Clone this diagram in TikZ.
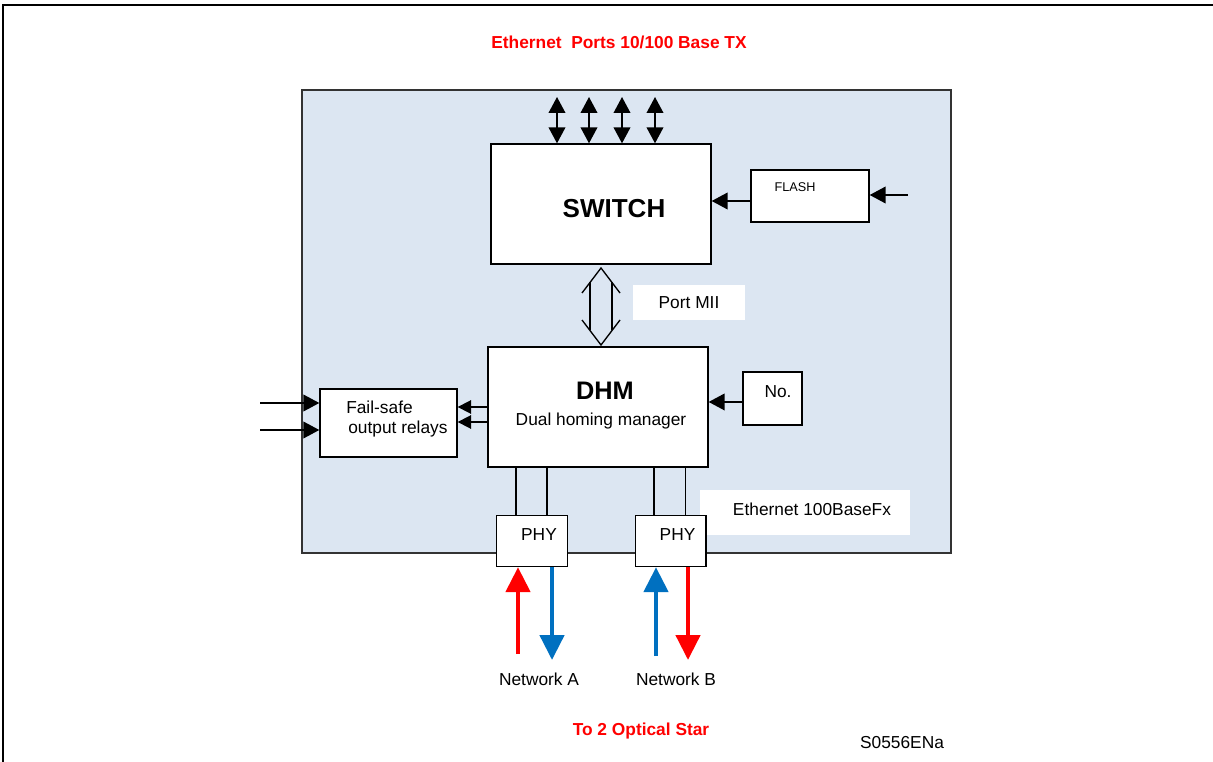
\documentclass[tikz,border=0pt]{standalone}
\usepackage{fontspec}
\setmainfont{Liberation Sans}
\usetikzlibrary{arrows.meta}
\definecolor{panel}{RGB}{220,230,242}
\definecolor{netred}{RGB}{255,0,0}
\definecolor{netblue}{RGB}{0,112,192}

\begin{document}
\begin{tikzpicture}[x=0.75pt,y=-0.75pt,font=\fontsize{13}{15}\selectfont,
  box/.style={draw,line width=1pt,fill=white,inner sep=0pt},
  txt/.style={inner sep=0pt},
  hdr/.style={inner sep=0pt,text=netred,font=\fontsize{13}{15}\selectfont\bfseries},
  arr/.style={-{Triangle[width=12.5pt,length=12pt]},line width=1.3pt},
  arrs/.style={-{Triangle[width=10pt,length=10pt]},line width=1.3pt},
  dbl/.style={{Triangle[width=12.5pt,length=12pt]}-{Triangle[width=12.5pt,length=12pt]},line width=1.3pt},
  net/.style={-{Triangle[width=18pt,length=18.75pt]},line width=3.5pt}]
\useasboundingbox (0,0) rectangle (1213,762);
\draw[line width=2pt] (3,762)--(3,5)--(1213,5);
\draw[fill=panel,draw=black!80,line width=0.9pt] (302,90) rectangle (951,553);
\node[hdr] (title) at (619,42) {Ethernet\ \ Ports 10/100 Base TX};

% switch and its ports
\node[box,minimum width=165pt,minimum height=90pt] (switch) at (601,204) {};
\node[txt,font=\fontsize{19.5}{22}\selectfont\bfseries] (switchtxt) at (614,209) {SWITCH};
\foreach \x [count=\i] in {557,589,622,655} {
  \coordinate (port\i) at (\x,97);
  \draw[dbl] (port\i) -- (port\i |- switch.north);
}

% flash
\node[box,minimum width=88.5pt,minimum height=39pt] (flash) at (810,196) {};
\node[txt,font=\fontsize{9.5}{11}\selectfont] (flashtxt) at (795,187) {FLASH};
\draw[arr] ([yshift=-3.75pt]flash.west) -- ([yshift=-3.75pt]flash.west -| switch.east);
\coordinate (flashin) at (908,195);
\draw[arr] (flashin) -- (flashin -| flash.east);

% MII link
\draw[line width=1pt] (582,293) -- (601,268) -- (620,293);
\draw[line width=1pt] (582,320) -- (601,345) -- (620,320);
\draw[line width=1pt] (590,282.5) -- (590,330.5);
\draw[line width=1pt] (612,282.5) -- (612,330.5);
\node[fill=white,minimum width=84pt,minimum height=26.25pt] (miilbl) at (689,302.5) {Port MII};

% dual homing manager
\node[box,minimum width=165pt,minimum height=90pt] (dhm) at (598,407) {};
\node[txt,font=\fontsize{19}{22}\selectfont\bfseries] (dhmtxt) at (605,391) {DHM};
\node[txt,anchor=base] (dhmsub) at (601,426) {Dual homing manager};

\node[box,minimum width=44.25pt,minimum height=39.75pt] (numbox) at (772.5,398.5) {};
\node[txt] (numtxt) at (778,392) {No.};
\draw[arr] ([yshift=-2.6pt]numbox.west) -- ([yshift=-2.6pt]numbox.west -| dhm.east);

% relays
\node[box,minimum width=102.75pt,minimum height=51pt] (relays) at (388.5,423) {};
\node[txt,anchor=base west] (relaytxt1) at (346,414) {Fail-safe};
\node[txt,anchor=base west] (relaytxt2) at (348,434) {output relays};
\draw[arrs] (dhm.west) -- (dhm.west -| relays.east);
\draw[arrs] ([yshift=-11.25pt]dhm.west) -- ([yshift=-11.25pt]dhm.west -| relays.east);
\coordinate (relin1) at (260,403);
\coordinate (relin2) at (260,430);
\draw[arr] (relin1) -- (relin1 -| relays.west);
\draw[arr] (relin2) -- (relin2 -| relays.west);

% fiber side
\node[fill=white,minimum width=157.5pt,minimum height=33.75pt] (fxbox) at (805,512.5) {};
\node[txt] (fxtxt) at (812,509) {Ethernet 100BaseFx};
\node[box,minimum width=53pt,minimum height=38.25pt] (phyA) at (532,541) {};
\node[txt] (phyAtxt) at (539,535) {PHY};
\node[box,minimum width=53pt,minimum height=38.25pt] (phyB) at (670.5,541) {};
\node[txt] (phyBtxt) at (677.5,535) {PHY};
\draw[line width=1pt] ([xshift=-12pt]phyA.north) -- ([xshift=-12pt]phyA.north |- dhm.south);
\draw[line width=1pt] ([xshift=11.25pt]phyA.north) -- ([xshift=11.25pt]phyA.north |- dhm.south);
\draw[line width=1pt] ([xshift=-12.4pt]phyB.north) -- ([xshift=-12.4pt]phyB.north |- dhm.south);
\draw[line width=1pt] ([xshift=11.25pt]phyB.north) -- ([xshift=11.25pt]phyB.north |- dhm.south);

\coordinate (inA) at (518,654);
\coordinate (outA) at (552,660);
\coordinate (inB) at (656,656);
\coordinate (outB) at (688,660);
\draw[net,netred] (inA) -- (inA |- phyA.south);
\draw[net,netblue] (outA |- phyA.south) -- (outA);
\draw[net,netblue] (inB) -- (inB |- phyB.south);
\draw[net,netred] (outB |- phyB.south) -- (outB);
\node[txt] (netA) at (539,679) {Network A};
\node[txt] (netB) at (676,679) {Network B};

\node[hdr] (optic) at (641,731) {To 2 Optical Star};
\node[txt] (code) at (902,743) {S0556ENa};
\end{tikzpicture}
\end{document}
